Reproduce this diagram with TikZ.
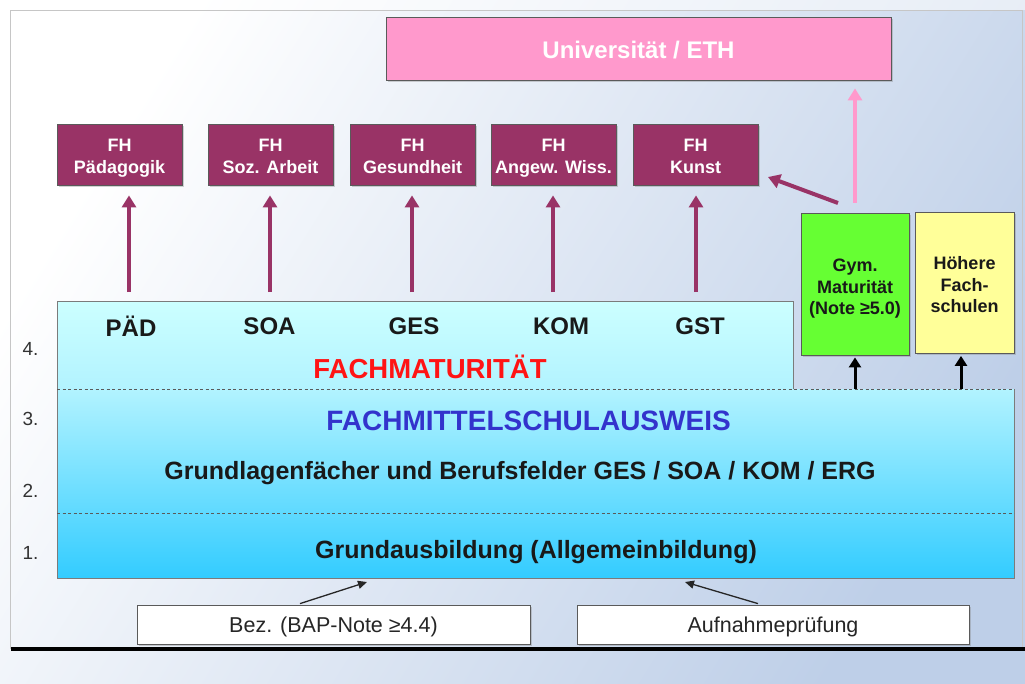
\documentclass[tikz,border=0pt]{standalone}
\usepackage{fontspec}
\setmainfont{Liberation Sans}
\usetikzlibrary{arrows.meta,shadows}
\definecolor{fhcol}{RGB}{153,51,102}
\definecolor{pinkc}{RGB}{255,153,204}
\definecolor{greenc}{RGB}{102,255,51}
\definecolor{yellowc}{RGB}{255,255,153}
\definecolor{cyantop}{RGB}{204,255,255}
\definecolor{cyanmid}{RGB}{178,243,255}
\definecolor{cyanbot}{RGB}{51,204,255}
\definecolor{bluetxt}{RGB}{51,51,204}
\definecolor{redtxt}{RGB}{255,20,20}
\definecolor{bgblue}{RGB}{190,207,232}
\definecolor{edgegray}{RGB}{90,90,90}
\definecolor{numgray}{RGB}{50,50,50}
\tikzset{
  fhbox/.style={draw=edgegray, line width=0.8pt, fill=fhcol, text=white,
    minimum width=125pt, minimum height=61pt, inner sep=0pt, align=center,
    text height=38pt, text depth=0pt,
    font=\bfseries\fontsize{18}{22}\selectfont,
    drop shadow={shadow xshift=1.5pt, shadow yshift=-1.5pt, opacity=0.35}},
  sidebox/.style={draw=edgegray, line width=0.8pt, inner sep=0pt, align=center,
    text=black!90, font=\bfseries\fontsize{18}{21.5}\selectfont,
    drop shadow={shadow xshift=1.5pt, shadow yshift=-1.5pt, opacity=0.35}},
  lowbox/.style={draw=edgegray, line width=0.8pt, fill=white, inner sep=0pt,
    minimum width=393pt, minimum height=39pt, text=black!85,
    text height=16pt, text depth=0pt,
    font=\fontsize{21.5}{25}\selectfont,
    drop shadow={shadow xshift=1.5pt, shadow yshift=-1.5pt, opacity=0.35}},
  fhlabel/.style={inner sep=0pt, font=\bfseries\fontsize{24}{28}\selectfont, text=black!90},
  levelnum/.style={inner sep=0pt, font=\fontsize{19}{22}\selectfont, text=numgray},
  fharrow/.style={draw=fhcol, line width=4pt, -{Triangle[width=14pt,length=12pt]}},
  pinkarrow/.style={draw=pinkc, line width=4pt, -{Triangle[width=14pt,length=12pt]}},
  blackarrow/.style={draw=black, line width=3pt, -{Triangle[width=12pt,length=10pt]}},
  thinarrow/.style={draw=black!85, line width=1.3pt, -{Triangle[width=8pt,length=9pt]}},
  dashline/.style={draw=edgegray, line width=1pt, dash pattern=on 3pt off 2.5pt},
  boxedge/.style={draw=edgegray!80, line width=1pt}
}
\begin{document}
\begin{tikzpicture}[x=1pt,y=-1pt]
\useasboundingbox (0,0) rectangle (1025,683);
% background
\shade[top color=white, bottom color=bgblue, shading angle=58] (0,0) rectangle (1025,683);
\fill[white, opacity=0.55] (0,0) rectangle (1025,10);
% frame
\draw[gray!45, line width=1pt] (10,649) -- (10,10) -- (1022,10) -- (1022,649);
\draw[black, line width=4pt] (11,649) -- (1025,649);

% cyan regions
\shade[top color=cyantop, bottom color=cyanmid] (57,301) rectangle (793,389);
\shade[top color=cyanmid, bottom color=cyanbot] (57,389) rectangle (1014,578);
\draw[boxedge] (57,389) -- (57,301) -- (793,301) -- (793,389);
\draw[boxedge] (1014,389) -- (1014,578) -- (57,578) -- (57,389);
\draw[dashline] (57,389) -- (1014,389);
\draw[dashline] (57,513) -- (1014,513);

% top boxes
\node[draw=edgegray, line width=0.8pt, fill=pinkc, minimum width=505pt, minimum height=63pt,
  inner sep=0pt, text=white, text height=19pt, text depth=0pt,
  font=\bfseries\fontsize{24}{28}\selectfont,
  drop shadow={shadow xshift=1.5pt, shadow yshift=-1.5pt, opacity=0.35}]
  (uni) at (638.5,48.5) {Universität / ETH};
\node[fhbox] (fh1) at (119.5,154.5) {FH\\Pädagogik};
\node[fhbox] (fh2) at (270.5,154.5) {FH\\Soz. Arbeit};
\node[fhbox] (fh3) at (412.5,154.5) {FH\\Gesundheit};
\node[fhbox] (fh4) at (553.5,154.5) {FH\\Angew. Wiss.};
\node[fhbox] (fh5) at (695.5,154.5) {FH\\Kunst};

\node[sidebox, fill=greenc, minimum width=108pt, minimum height=142pt,
  text height=61pt, text depth=0pt] (gym) at (855,284)
  {Gym.\\Maturität\\(Note ≥5.0)};
\node[sidebox, fill=yellowc, minimum width=99pt, minimum height=141pt,
  text height=59pt, text depth=0pt] (hfs) at (964.5,283)
  {Höhere\\Fach-\\schulen};

% labels in cyan area
\node[fhlabel] (pad) at (131,326) {PÄD};
\node[fhlabel] (soa) at (269.5,326) {SOA};
\node[fhlabel] (ges) at (414,326) {GES};
\node[fhlabel] (kom) at (561,326) {KOM};
\node[fhlabel] (gst) at (700,326) {GST};
\node[inner sep=0pt, text=redtxt, font=\bfseries\fontsize{27.5}{32}\selectfont] (fm) at (430,367) {FACHMATURITÄT};
\node[inner sep=0pt, text=bluetxt, font=\bfseries\fontsize{28}{32}\selectfont] (fms) at (528.5,420.5) {FACHMITTELSCHULAUSWEIS};
\node[inner sep=0pt, text=black!90, font=\bfseries\fontsize{25}{28}\selectfont] (gl) at (520,473.5) {Grundlagenfächer und Berufsfelder GES / SOA / KOM / ERG};
\node[inner sep=0pt, text=black!90, font=\bfseries\fontsize{25}{28}\selectfont] (ga) at (536,552.5) {Grundausbildung (Allgemeinbildung)};

% level numbers
\node[levelnum] (l4) at (30.5,348.5) {4.};
\node[levelnum] (l3) at (30.5,418.5) {3.};
\node[levelnum] (l2) at (30.5,490.5) {2.};
\node[levelnum] (l1) at (30.5,552.5) {1.};

% bottom boxes
\node[lowbox] (bez) at (333.5,624.5) {Bez. (BAP-Note ≥4.4)};
\node[lowbox, minimum width=392pt] (auf) at (773,624.5) {Aufnahmeprüfung};

% coordinates
\coordinate (s1) at (129,292);
\coordinate (s2) at (270,292);
\coordinate (s3) at (412,292);
\coordinate (s4) at (553,292);
\coordinate (s5) at (696,292);
\coordinate (gk) at (838,203);
\coordinate (kt) at (768,177);
\coordinate (b1) at (855,389);
\coordinate (b2) at (961,389);
\coordinate (e1) at (367,582);
\coordinate (e2) at (685,582);

% FH arrows
\draw[fharrow, shorten >=10pt] (s1) -- (s1 |- fh1.south);
\draw[fharrow, shorten >=10pt] (s2) -- (s2 |- fh2.south);
\draw[fharrow, shorten >=10pt] (s3) -- (s3 |- fh3.south);
\draw[fharrow, shorten >=10pt] (s4) -- (s4 |- fh4.south);
\draw[fharrow, shorten >=10pt] (s5) -- (s5 |- fh5.south);
\draw[fharrow] (gk) -- (kt);
\draw[pinkarrow, shorten <=10pt, shorten >=8pt] (gym.north) -- (gym.north |- uni.south);
\draw[blackarrow, shorten >=2pt] (b1) -- (gym.south);
\draw[blackarrow, shorten >=2pt] (b2) -- (b2 |- hfs.south);
\draw[thinarrow] ([xshift=-33.5pt,yshift=1pt]bez.north) -- (e1);
\draw[thinarrow] ([xshift=-15pt,yshift=1pt]auf.north) -- (e2);
\end{tikzpicture}
\end{document}
